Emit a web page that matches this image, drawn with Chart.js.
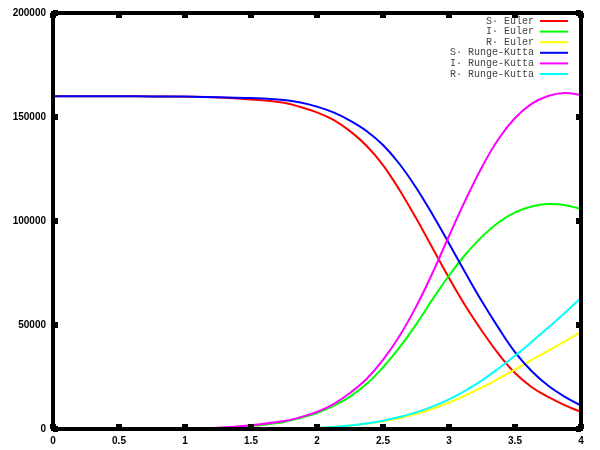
<!DOCTYPE html>
<html>
<head>
<meta charset="utf-8">
<script src="https://cdn.jsdelivr.net/npm/chart.js@4/dist/chart.umd.min.js"></script>
<style>
  html, body { margin: 0; padding: 0; background: #fff; }
  #wrap { width: 600px; height: 450px; }
</style>
</head>
<body>
<div id="wrap"><canvas id="sirChart" width="600" height="450"></canvas></div>
<script>
// time steps (x axis), denser where the curves bend
const tValues = [0, 0.25, 0.5, 0.75, 1, 1.25, 1.5, 1.75, 1.875, 2, 2.125, 2.25, 2.375, 2.5, 2.625, 2.75, 2.875, 3, 3.125, 3.25, 3.375, 3.5, 3.625, 3.75, 3.875, 4];

// Euler
const sEuler = [160000, 160000, 159950, 159900, 159750, 159400, 158400, 156800, 154800, 152200, 148600, 143200, 136200, 126900, 114900, 101400, 87000, 72600, 59100, 47100, 36100, 26900, 20200, 15400, 11500, 8200];
const iEuler = [10, 15, 30, 70, 180, 480, 1400, 3400, 5300, 7700, 11100, 15600, 21600, 29600, 39200, 50200, 62300, 73800, 83900, 92500, 99300, 104100, 107000, 108200, 107700, 105800];
const rEuler = [0, 0, 0, 10, 30, 70, 150, 270, 360, 480, 990, 1660, 2550, 3730, 5290, 7280, 9760, 12700, 16150, 20000, 24200, 28600, 33100, 37600, 42100, 46600];

// Runge-Kutta
const sRK = [160000, 160000, 159950, 159900, 159800, 159500, 159100, 158200, 157000, 155000, 152200, 148300, 143300, 136500, 127400, 116100, 103100, 89200, 75000, 61300, 48600, 37000, 27900, 20900, 15600, 11300];
const iRK = [10, 15, 35, 80, 220, 600, 1800, 3800, 5700, 8200, 12000, 17300, 24000, 33200, 44700, 58700, 75000, 92800, 110100, 126000, 139400, 149500, 156300, 160100, 161500, 160600];
const rRK = [0, 0, 0, 10, 30, 70, 160, 280, 370, 480, 940, 1640, 2620, 3990, 5750, 7980, 10750, 14230, 18500, 23400, 29100, 35200, 41800, 48700, 55700, 63000];

const seriesLabels = ["S\u00b7 Euler", "I\u00b7 Euler", "R\u00b7 Euler", "S\u00b7 Runge-Kutta", "I\u00b7 Runge-Kutta", "R\u00b7 Runge-Kutta"];
const seriesColors = ["#ff0000", "#00ff00", "#ffff00", "#0000ff", "#ff00ff", "#00ffff"];
const seriesValues = [sEuler, iEuler, rEuler, sRK, iRK, rRK];

const xTicks = [0, 0.5, 1, 1.5, 2, 2.5, 3, 3.5, 4];
const yTicks = [0, 50000, 100000, 150000, 200000];

(function () {
  "use strict";

  // gnuplot-like frame, inward ticks and key
  const gnuplotFrame = {
    id: "gnuplotFrame",
    afterDraw(chart) {
      const ctx = chart.ctx;
      const area = chart.chartArea;
      const xs = chart.scales.x;
      const ys = chart.scales.y;
      ctx.save();

      // tick marks on all four sides, pointing inwards
      ctx.fillStyle = "#000";
      xTicks.forEach((t) => {
        const px = xs.getPixelForValue(t);
        ctx.fillRect(px - 3, area.bottom - 5, 6, 5);
        ctx.fillRect(px - 3, area.top, 6, 5);
      });
      yTicks.forEach((t) => {
        const py = ys.getPixelForValue(t);
        ctx.fillRect(area.left, py - 3, 5, 6);
        ctx.fillRect(area.right - 5, py - 3, 5, 6);
      });

      // key
      ctx.font = "10px 'Liberation Mono', 'DejaVu Sans Mono', monospace";
      ctx.textAlign = "right";
      ctx.textBaseline = "middle";
      seriesLabels.forEach((label, i) => {
        const y = 21 + i * 10.6;
        ctx.fillStyle = "#444";
        ctx.fillText(label, 534, y);
        ctx.strokeStyle = seriesColors[i];
        ctx.lineWidth = 2;
        ctx.beginPath();
        ctx.moveTo(540, y);
        ctx.lineTo(568, y);
        ctx.stroke();
      });

      // thick border
      ctx.strokeStyle = "#000";
      ctx.lineWidth = 4;
      ctx.strokeRect(area.left, area.top, area.right - area.left, area.bottom - area.top);
      ctx.restore();
    },
  };

  const ctx = document.getElementById("sirChart");
  new Chart(ctx, {
    type: "line",
    data: {
      datasets: seriesValues.map((vals, i) => ({
        label: seriesLabels[i],
        data: tValues.map((t, k) => ({ x: t, y: vals[k] })),
        borderColor: seriesColors[i],
        backgroundColor: seriesColors[i],
        borderWidth: 2,
        pointRadius: 0,
        tension: 0.4,
        fill: false,
        order: seriesValues.length - i,
      })),
    },
    options: {
      responsive: false,
      animation: false,
      layout: { padding: { top: 13, right: 19, left: 0, bottom: 0 } },
      plugins: {
        legend: { display: false },
        tooltip: { enabled: false },
      },
      scales: {
        x: {
          type: "linear",
          min: 0,
          max: 4,
          afterBuildTicks: (scale) => {
            scale.ticks = xTicks.map((v) => ({ value: v }));
          },
          grid: { display: false, drawTicks: false },
          border: { display: false },
          ticks: {
            padding: 6,
            color: "#000",
            maxRotation: 0,
            autoSkip: false,
            font: { family: "'Liberation Sans', Arial, sans-serif", size: 10, weight: "bold" },
            callback: (v) => String(v),
          },
          afterFit: (scale) => {
            scale.height = 21;
          },
        },
        y: {
          min: 0,
          max: 200000,
          afterBuildTicks: (scale) => {
            scale.ticks = yTicks.map((v) => ({ value: v }));
          },
          grid: { display: false, drawTicks: false },
          border: { display: false },
          ticks: {
            padding: 7,
            color: "#000",
            autoSkip: false,
            font: { family: "'Liberation Sans', Arial, sans-serif", size: 10, weight: "bold" },
            callback: (v) => String(v),
          },
          afterFit: (scale) => {
            scale.width = 53;
          },
        },
      },
    },
    plugins: [gnuplotFrame],
  });
})();
</script>
</body>
</html>
